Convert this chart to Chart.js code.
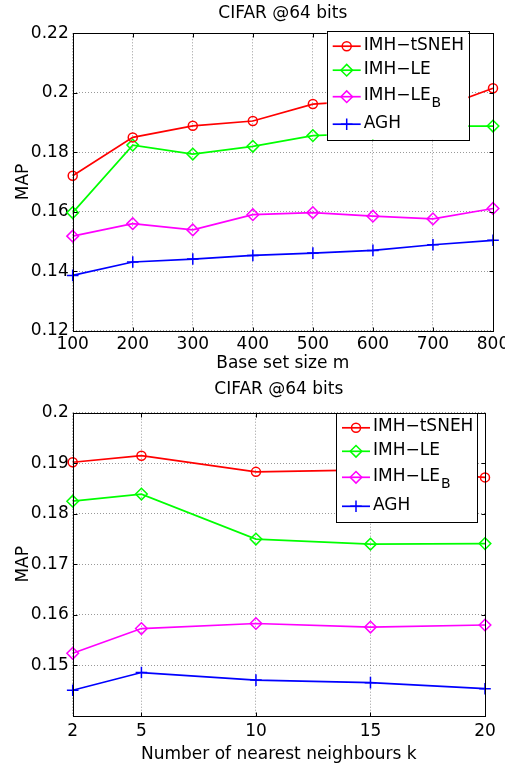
<!DOCTYPE html>
<html>
<head>
<meta charset="utf-8">
<script src="https://cdn.jsdelivr.net/npm/chart.js@4/dist/chart.umd.min.js"></script>
<style>
  body { margin: 0; background: #fff; }
  canvas { display: block; position: absolute; left: 0; }
</style>
</head>
<body>
<canvas id="sizeChart" width="505" height="375" style="top:0"></canvas>
<canvas id="kChart" width="505" height="390" style="top:375px"></canvas>
<script>
// top chart: MAP vs base set size m
var baseSizes = [100, 200, 300, 400, 500, 600, 700, 800];
var tsnehBySize = [0.1721, 0.1850, 0.1889, 0.1905, 0.1962, 0.1975, 0.1941, 0.2015];
var leBySize    = [0.1597, 0.1824, 0.1794, 0.1820, 0.1856, 0.1864, 0.1888, 0.1888];
var leBBySize   = [0.1518, 0.1560, 0.1539, 0.1590, 0.1597, 0.1585, 0.1576, 0.1611];
var aghBySize   = [0.1386, 0.1431, 0.1441, 0.1453, 0.1461, 0.1470, 0.1489, 0.1504];

// bottom chart: MAP vs number of nearest neighbours k
var neighbourCounts = [2, 5, 10, 15, 20];
var tsnehByK = [0.1902, 0.1915, 0.1883, 0.1887, 0.1872];
var leByK    = [0.1825, 0.1839, 0.1750, 0.1740, 0.1741];
var leBByK   = [0.1524, 0.1573, 0.1583, 0.1576, 0.1580];
var aghByK   = [0.1451, 0.1486, 0.1471, 0.1466, 0.1454];

var methodNames = ['IMH\u2212tSNEH', 'IMH\u2212LE', 'IMH\u2212LE_B', 'AGH'];
var methodColors = ['#ff0000', '#00ff00', '#ff00ff', '#0000ff'];
var methodMarkers = ['circle', 'rectRot', 'rectRot', 'cross'];
var markerSizes = [4.5, 5.8, 5.8, 5.8];

var FONT = '"DejaVu Sans", sans-serif';

function makeDatasets(series) {
  return series.map(function (vals, i) {
    return {
      label: methodNames[i],
      data: vals,
      borderColor: methodColors[i],
      backgroundColor: methodColors[i],
      borderWidth: 1.7,
      pointStyle: methodMarkers[i],
      pointRadius: markerSizes[i],
      pointBorderWidth: 1.5,
      pointBackgroundColor: 'rgba(0,0,0,0)',
      pointBorderColor: methodColors[i],
      tension: 0,
      clip: false
    };
  });
}

function drawMarker(ctx, style, x, y, r, color) {
  ctx.save();
  ctx.strokeStyle = color;
  ctx.lineWidth = 1.5;
  ctx.beginPath();
  if (style === 'circle') {
    ctx.arc(x, y, r, 0, Math.PI * 2);
  } else if (style === 'rectRot') {
    ctx.moveTo(x - r, y); ctx.lineTo(x, y - r); ctx.lineTo(x + r, y); ctx.lineTo(x, y + r); ctx.closePath();
  } else {
    ctx.moveTo(x - r, y); ctx.lineTo(x + r, y); ctx.moveTo(x, y - r); ctx.lineTo(x, y + r);
  }
  ctx.stroke();
  ctx.restore();
}

// axes box with inward ticks on all four sides
var framePlugin = {
  id: 'frame',
  afterDraw: function (chart) {
    var ctx = chart.ctx, a = chart.chartArea;
    var L = Math.round(a.left) + 0.5, R = Math.round(a.right) + 0.5;
    var T = Math.round(a.top) + 0.5, B = Math.round(a.bottom) + 0.5;
    ctx.save();
    ctx.strokeStyle = '#000';
    ctx.lineWidth = 1;
    ctx.strokeRect(L, T, R - L, B - T);
    ctx.beginPath();
    chart.scales.x.ticks.forEach(function (t) {
      var px = Math.round(chart.scales.x.getPixelForValue(t.value)) + 0.5;
      ctx.moveTo(px, B); ctx.lineTo(px, B - 4);
      ctx.moveTo(px, T); ctx.lineTo(px, T + 4);
    });
    chart.scales.y.ticks.forEach(function (t) {
      var py = Math.round(chart.scales.y.getPixelForValue(t.value)) + 0.5;
      ctx.moveTo(L, py); ctx.lineTo(L + 4, py);
      ctx.moveTo(R, py); ctx.lineTo(R - 4, py);
    });
    ctx.stroke();
    ctx.restore();
  }
};

// opaque boxed legend drawn over the plot
var boxLegendPlugin = {
  id: 'boxLegend',
  afterDraw: function (chart, args, opts) {
    var ctx = chart.ctx, b = opts.box;
    ctx.save();
    ctx.fillStyle = '#fff';
    ctx.fillRect(b.left, b.top, b.width, b.height);
    ctx.strokeStyle = '#000';
    ctx.lineWidth = 1;
    ctx.strokeRect(Math.round(b.left) + 0.5, Math.round(b.top) + 0.5, Math.round(b.width), Math.round(b.height));
    chart.data.datasets.forEach(function (ds, i) {
      var y = b.top + opts.rows[i];
      ctx.strokeStyle = ds.borderColor;
      ctx.lineWidth = ds.borderWidth;
      ctx.beginPath();
      ctx.moveTo(b.left + 6, y); ctx.lineTo(b.left + 34, y);
      ctx.stroke();
      drawMarker(ctx, ds.pointStyle, b.left + 20, y, ds.pointRadius, ds.borderColor);
      var parts = ds.label.split('_');
      ctx.fillStyle = '#000';
      ctx.textAlign = 'left';
      ctx.textBaseline = 'middle';
      ctx.font = '17px ' + FONT;
      ctx.fillText(parts[0], b.left + 37, y - 1);
      if (parts[1]) {
        var w = ctx.measureText(parts[0]).width;
        ctx.font = '14px ' + FONT;
        ctx.fillText(parts[1], b.left + 37 + w + 1, y + 7);
      }
    });
    ctx.restore();
  }
};

function fmt(v) { return parseFloat(v.toFixed(2)).toString(); }

function makeOptions(cfg) {
  return {
    responsive: false,
    animation: false,
    devicePixelRatio: 1,
    layout: { padding: { left: 0, right: cfg.padRight, top: 0, bottom: 0 } },
    plugins: {
      legend: { display: false },
      tooltip: { enabled: false },
      title: {
        display: true,
        fullSize: false,
        text: 'CIFAR @64 bits',
        color: '#000',
        font: { family: FONT, size: 17, weight: 'normal' },
        padding: cfg.titlePad
      },
      boxLegend: cfg.legend
    },
    scales: {
      x: cfg.x,
      y: {
        type: 'linear',
        min: cfg.yMin,
        max: cfg.yMax,
        ticks: {
          stepSize: cfg.yStep,
          color: '#000',
          padding: 4,
          font: { family: FONT, size: 17 },
          callback: function (v) { return cfg.hideMin && Math.abs(v - cfg.yMin) < 1e-9 ? '' : fmt(v); }
        },
        grid: { color: 'rgba(0,0,0,0.4)', lineWidth: 1, drawTicks: false },
        border: { display: false, dash: [1, 2] },
        title: {
          display: true, text: 'MAP', color: '#000',
          font: { family: FONT, size: 17 },
          padding: { top: 13, bottom: 0 }
        },
        afterFit: function (s) { s.width = 72.7; s.paddingTop = 0; s.paddingBottom = 0; }
      }
    }
  };
}

function xAxis(min, max, step, label, height, tickPad, titlePad, fixedTicks) {
  var ax = {
    type: 'linear',
    min: min,
    max: max,
    ticks: {
      stepSize: step,
      color: '#000',
      padding: tickPad,
      maxRotation: 0,
      autoSkip: false,
      font: { family: FONT, size: 17 }
    },
    grid: { color: 'rgba(0,0,0,0.4)', lineWidth: 1, drawTicks: false },
    border: { display: false, dash: [1, 2] },
    title: {
      display: true, text: label, color: '#000',
      font: { family: FONT, size: 17 },
      padding: { top: 0, bottom: titlePad }
    },
    afterFit: function (s) { s.height = height; s.paddingLeft = 0; s.paddingRight = 0; }
  };
  if (fixedTicks) {
    ax.afterBuildTicks = function (s) { s.ticks = fixedTicks.map(function (v) { return { value: v }; }); };
  }
  return ax;
}

new Chart(document.getElementById('sizeChart').getContext('2d'), {
  type: 'line',
  data: {
    labels: baseSizes,
    datasets: makeDatasets([tsnehBySize, leBySize, leBBySize, aghBySize])
  },
  options: makeOptions({
    padRight: 12,
    titlePad: { top: 3.1, bottom: 9.8 },
    yMin: 0.12, yMax: 0.22, yStep: 0.02, hideMin: false,
    x: xAxis(100, 800, 100, 'Base set size m', 44.3, 3.3, 1.2, null),
    legend: { box: { left: 326.7, top: 30.7, width: 141.6, height: 108.6 }, rows: [15.5, 39.5, 66, 93.5] }
  }),
  plugins: [framePlugin, boxLegendPlugin]
});

new Chart(document.getElementById('kChart').getContext('2d'), {
  type: 'line',
  data: {
    labels: neighbourCounts,
    datasets: makeDatasets([tsnehByK, leByK, leBByK, aghByK])
  },
  options: makeOptions({
    padRight: 20,
    titlePad: { top: 4.8, bottom: 12.5 },
    yMin: 0.14, yMax: 0.2, yStep: 0.01, hideMin: true,
    x: xAxis(2, 20, 5, 'Number of nearest neighbours k', 49, 5.3, 0, neighbourCounts),
    legend: { box: { left: 336, top: 38.3, width: 141.3, height: 108.7 }, rows: [14.5, 38, 64, 93] }
  }),
  plugins: [framePlugin, boxLegendPlugin]
});
</script>
</body>
</html>
